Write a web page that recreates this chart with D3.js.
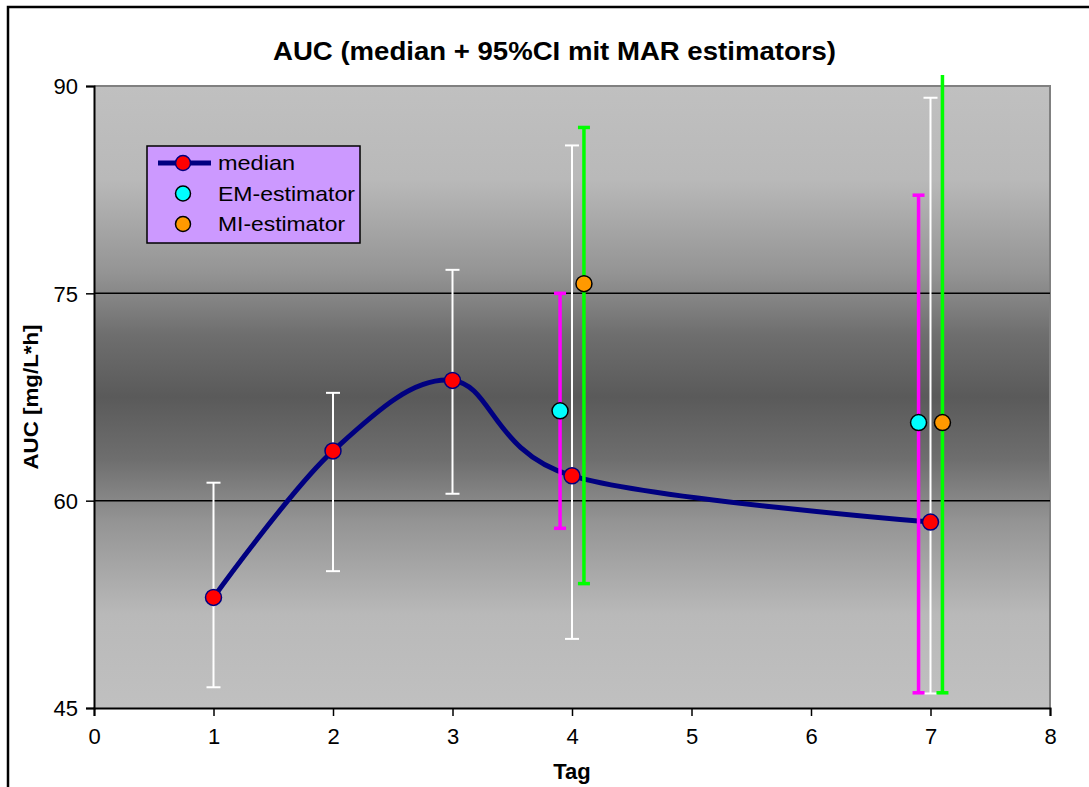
<!DOCTYPE html>
<html>
<head>
<meta charset="utf-8">
<script src="https://cdn.jsdelivr.net/npm/d3@7"></script>
<style>
  body { margin: 0; background: #fff; }
  svg { display: block; font-family: "Liberation Sans", Arial, sans-serif; }
</style>
</head>
<body>
<div id="chart"></div>
<script>
// median + 95%CI
const days = [1, 2, 3, 4, 7];
const median = [53.0, 63.6, 68.7, 61.8, 58.45];
const ciLow = [46.5, 54.9, 60.5, 50.0, 46.05];
const ciHigh = [61.3, 67.8, 76.7, 85.7, 89.15];

// EM-estimator
const emDays = [3.9, 6.9];
const emValues = [66.5, 65.65];
const emLow = [58.0, 46.1];
const emHigh = [75.0, 82.1];

// MI-estimator
const miDays = [4.1, 7.1];
const miValues = [75.7, 65.65];
const miLow = [54.0, 46.1];
const miHigh = [87.0, 90.8];

const xTicks = [0, 1, 2, 3, 4, 5, 6, 7, 8];
const yTicks = [45, 60, 75, 90];

const width = 1089, height = 787;
const margin = { top: 86, right: 39, bottom: 79, left: 94 };

const svg = d3.select("#chart").append("svg")
  .attr("width", width)
  .attr("height", height);

const x = d3.scaleLinear().domain([0, 8]).range([margin.left, width - margin.right]);
const y = d3.scaleLinear().domain([45, 90]).range([height - margin.bottom, margin.top]);

// outer frame (only top and left visible)
svg.append("path")
  .attr("d", `M8,${height + 5}V7H${width + 5}`)
  .attr("fill", "none")
  .attr("stroke", "#000")
  .attr("stroke-width", 2.5);

// plot area gradient
const grad = svg.append("defs").append("linearGradient")
  .attr("id", "bg").attr("x1", 0).attr("y1", 0).attr("x2", 0).attr("y2", 1);
[[0, "#c0c0c0"], [0.15, "#b9b9b9"], [0.3, "#949494"], [0.4, "#6e6e6e"], [0.5, "#5a5a5a"],
 [0.6, "#6e6e6e"], [0.7, "#949494"], [0.85, "#b9b9b9"], [1, "#c0c0c0"]]
  .forEach(([o, c]) => grad.append("stop").attr("offset", o).attr("stop-color", c));

svg.append("rect")
  .attr("x", x(0)).attr("y", y(90))
  .attr("width", x(8) - x(0)).attr("height", y(45) - y(90))
  .attr("fill", "url(#bg)");

// plot border top/right in grey
svg.append("path")
  .attr("d", `M${x(0)},${y(90)}H${x(8)}V${y(45)}`)
  .attr("fill", "none")
  .attr("stroke", "#808080")
  .attr("stroke-width", 2);

// gridlines
svg.selectAll(".grid")
  .data([60, 75])
  .enter().append("line")
  .attr("x1", x(0)).attr("x2", x(8))
  .attr("y1", d => y(d)).attr("y2", d => y(d))
  .attr("stroke", "#000").attr("stroke-width", 1.5);

// axes
const gx = svg.append("g")
  .attr("transform", `translate(0,${y(45)})`)
  .call(d3.axisBottom(x).tickValues(xTicks).tickSize(8).tickPadding(12).tickFormat(d3.format("d")));
const gy = svg.append("g")
  .attr("transform", `translate(${x(0)},0)`)
  .call(d3.axisLeft(y).tickValues(yTicks).tickSize(8).tickPadding(8));

[gx, gy].forEach(g => {
  g.select(".domain").attr("stroke", "#000").attr("stroke-width", 2);
  g.selectAll(".tick line").attr("stroke", "#000").attr("stroke-width", 1.5);
  g.selectAll(".tick text")
    .attr("fill", "#000")
    .style("font-size", "22px")
    .style("font-family", "'Liberation Sans', Arial, sans-serif");
});
gy.selectAll(".tick text").attr("dy", "0.35em");

// error bars helper
function errorBars(xs, lo, hi, color, sw, cap) {
  const g = svg.append("g");
  xs.forEach((d, i) => {
    const top = Math.min(hi[i], 90.8);
    g.append("line")
      .attr("x1", x(d)).attr("x2", x(d))
      .attr("y1", y(lo[i])).attr("y2", y(top))
      .attr("stroke", color).attr("stroke-width", sw);
    g.append("line")
      .attr("x1", x(d) - cap / 2).attr("x2", x(d) + cap / 2)
      .attr("y1", y(lo[i])).attr("y2", y(lo[i]))
      .attr("stroke", color).attr("stroke-width", sw);
    if (hi[i] <= 90) {
      g.append("line")
        .attr("x1", x(d) - cap / 2).attr("x2", x(d) + cap / 2)
        .attr("y1", y(hi[i])).attr("y2", y(hi[i]))
        .attr("stroke", color).attr("stroke-width", sw);
    }
  });
}

function markers(xs, vs, fill, stroke) {
  svg.append("g").selectAll("circle")
    .data(xs)
    .enter().append("circle")
    .attr("cx", d => x(d))
    .attr("cy", (d, i) => y(vs[i]))
    .attr("r", 8)
    .attr("fill", fill)
    .attr("stroke", stroke)
    .attr("stroke-width", 1.5);
}

// median series
errorBars(days, ciLow, ciHigh, "#ffffff", 2, 14);

const line = d3.line()
  .x(d => x(d[0]))
  .y(d => y(d[1]))
  .curve(d3.curveCardinal.tension(0));

svg.append("path")
  .datum(days.map((d, i) => [d, median[i]]))
  .attr("d", line)
  .attr("fill", "none")
  .attr("stroke", "#000080")
  .attr("stroke-width", 5);

// EM + MI bars
errorBars(emDays, emLow, emHigh, "#ff00ff", 3.5, 12);
errorBars(miDays, miLow, miHigh, "#00ff00", 3.5, 12);

markers(days, median, "#ff0000", "#000080");
markers(emDays, emValues, "#00ffff", "#000");
markers(miDays, miValues, "#ff9900", "#000");

// title
svg.append("text")
  .attr("x", 554.5).attr("y", 60)
  .attr("text-anchor", "middle")
  .attr("textLength", 563)
  .attr("lengthAdjust", "spacingAndGlyphs")
  .style("font-size", "25px")
  .style("font-weight", "bold")
  .text("AUC (median + 95%CI mit MAR estimators)");

// axis titles
svg.append("text")
  .attr("x", x(4)).attr("y", 779)
  .attr("text-anchor", "middle")
  .style("font-size", "22px")
  .style("font-weight", "bold")
  .text("Tag");

svg.append("text")
  .attr("transform", `translate(38,${(y(45) + y(90)) / 2}) rotate(-90)`)
  .attr("text-anchor", "middle")
  .attr("textLength", 145)
  .attr("lengthAdjust", "spacingAndGlyphs")
  .style("font-size", "21px")
  .style("font-weight", "bold")
  .text("AUC [mg/L*h]");

// legend
const legend = svg.append("g");
legend.append("rect")
  .attr("x", 147).attr("y", 146)
  .attr("width", 213).attr("height", 97)
  .attr("fill", "#cc99ff")
  .attr("stroke", "#000")
  .attr("stroke-width", 1.5);

const legendItems = [
  { label: "median", fill: "#ff0000", stroke: "#000080", line: true, w: 77 },
  { label: "EM-estimator", fill: "#00ffff", stroke: "#000", line: false, w: 137 },
  { label: "MI-estimator", fill: "#ff9900", stroke: "#000", line: false, w: 127 }
];
legendItems.forEach((d, i) => {
  const cy = 163 + i * 30.5;
  if (d.line) {
    legend.append("line")
      .attr("x1", 158).attr("x2", 211)
      .attr("y1", cy).attr("y2", cy)
      .attr("stroke", "#000080").attr("stroke-width", 5);
  }
  legend.append("circle")
    .attr("cx", 183).attr("cy", cy).attr("r", 7.5)
    .attr("fill", d.fill).attr("stroke", d.stroke).attr("stroke-width", 1.5);
  legend.append("text")
    .attr("x", 218).attr("y", cy).attr("dy", "0.35em")
    .attr("textLength", d.w)
    .attr("lengthAdjust", "spacingAndGlyphs")
    .style("font-size", "21px")
    .text(d.label);
});
</script>
</body>
</html>
